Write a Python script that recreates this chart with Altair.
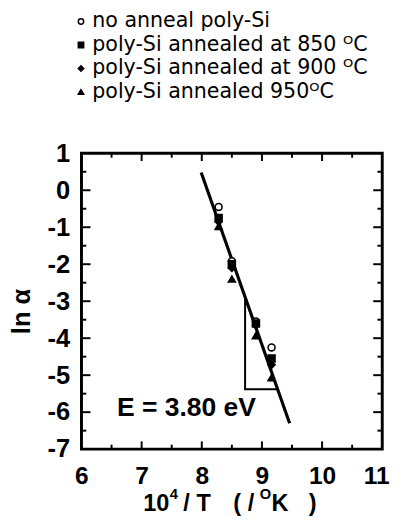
import altair as alt
import pandas as pd

# ---- data ----
series_names = [
    "no anneal poly-Si",
    "poly-Si annealed at 850 ᴼC",
    "poly-Si annealed at 900 ᴼC",
    "poly-Si annealed 950ᴼC",
]
inv_T = [8.28, 8.5, 8.9, 9.16]
ln_alpha_none = [-0.45, -1.92, -3.55, -4.25]
ln_alpha_850 = [-0.75, -2.0, -3.6, -4.55]
ln_alpha_900 = [-0.85, -2.1, -3.65, -4.72]
ln_alpha_950 = [-0.98, -2.4, -3.93, -5.07]

fit_x = [7.99, 9.46]
fit_y = [0.48, -6.3]

tri_x = [8.72, 8.72, 9.26]
tri_y = [-2.89, -5.38, -5.38]

note_text = ["E = 3.80 eV"]
note_x = [6.59]
note_y = [-5.88]

x_tick_labels = [6, 7, 8, 9, 10, 11]
y_tick_labels = [-7, -6, -5, -4, -3, -2, -1, 0, 1]
x_major_ticks = [7, 8, 9, 10]
x_minor_ticks = [6.5, 7.5, 8.5, 9.5, 10.5]
y_major_ticks = [-6, -5, -4, -3, -2, -1, 0]
y_minor_ticks = [-6.5, -5.5, -4.5, -3.5, -2.5, -1.5, -0.5, 0.5]

# x-axis title pieces (text, superscript?)
x_title_pieces = ["10", "4", "/ T", "( /", "O", "K", ")"]
x_title_super = [False, True, False, False, True, False, False]

X0, X1 = 6, 11
Y0, Y1 = -7, 1

# ---- tables ----
rows = []
for name, vals in zip(series_names, [ln_alpha_none, ln_alpha_850, ln_alpha_900, ln_alpha_950]):
    for xv, yv in zip(inv_T, vals):
        rows.append({"x": xv, "y": yv, "series": name})
pts = pd.DataFrame(rows)

fit = pd.DataFrame({"x": fit_x, "y": fit_y})
tri = pd.DataFrame({"x": tri_x, "y": tri_y, "o": list(range(len(tri_x)))})
note = pd.DataFrame({"x": note_x, "y": note_y, "t": note_text})

# inward ticks on the four sides (lengths in data units)
yl_major, yl_minor = 0.21, 0.12
xl_major, xl_minor = 0.15, 0.08
vt = []
for t in x_major_ticks:
    vt.append({"x": t, "y": Y0, "y2": Y0 + yl_major})
    vt.append({"x": t, "y": Y1, "y2": Y1 - yl_major})
for t in x_minor_ticks:
    vt.append({"x": t, "y": Y0, "y2": Y0 + yl_minor})
    vt.append({"x": t, "y": Y1, "y2": Y1 - yl_minor})
vt = pd.DataFrame(vt)
ht = []
for t in y_major_ticks:
    ht.append({"y": t, "x": X0, "x2": X0 + xl_major})
    ht.append({"y": t, "x": X1, "x2": X1 - xl_major})
for t in y_minor_ticks:
    ht.append({"y": t, "x": X0, "x2": X0 + xl_minor})
    ht.append({"y": t, "x": X1, "x2": X1 - xl_minor})
ht = pd.DataFrame(ht)

# ---- scales / axes ----
xscale = alt.Scale(domain=[X0, X1], nice=False, zero=False)
yscale = alt.Scale(domain=[Y0, Y1], nice=False, zero=False)

xaxis = alt.Axis(
    values=x_tick_labels, ticks=False, domain=False, grid=False,
    labelFont="Liberation Sans", labelFontWeight="bold", labelFontSize=25,
    labelColor="black", labelPadding=15, labelFlush=True, labelFlushOffset=7,
    title=None,
)
yaxis = alt.Axis(
    values=y_tick_labels, ticks=False, domain=False, grid=False,
    labelFont="Liberation Sans", labelFontWeight="bold", labelFontSize=26,
    labelColor="black", labelPadding=12, labelFlush=False,
    labelExpr="'' + datum.value",
    title="ln α", titleFont="Liberation Sans", titleFontWeight="bold",
    titleFontSize=26, titleColor="black", titleAngle=270,
    titleAlign="center", titleBaseline="middle", titleX=-61, titleY=161,
)


def X(f):
    return alt.X(f, type="quantitative", scale=xscale, axis=xaxis)


def Y(f):
    return alt.Y(f, type="quantitative", scale=yscale, axis=yaxis)


legend = alt.Legend(
    orient="none", legendX=-11, legendY=-145, title=None,
    labelFont="DejaVu Sans", labelFontSize=21, labelColor="black",
    labelLimit=500, labelOffset=1, padding=0,
    symbolSize=30, symbolStrokeWidth=1.5,
)

fit_line = alt.Chart(fit).mark_line(color="black", strokeWidth=3.2).encode(x=X("x"), y=Y("y"))

tri_line = alt.Chart(tri).mark_line(color="black", strokeWidth=2).encode(
    x=X("x"), y=Y("y"), order="o:Q"
)

points = alt.Chart(pts).mark_point(filled=True, strokeWidth=1.6, opacity=1, size=50).encode(
    x=X("x"), y=Y("y"),
    shape=alt.Shape("series:N", scale=alt.Scale(domain=series_names,
                    range=["circle", "square", "diamond", "triangle-up"]), legend=legend),
    fill=alt.Fill("series:N", scale=alt.Scale(domain=series_names,
                  range=["white", "black", "black", "black"]), legend=legend),
    stroke=alt.Stroke("series:N", scale=alt.Scale(domain=series_names,
                      range=["black", "black", "black", "black"]), legend=legend),
)

text = alt.Chart(note).mark_text(
    font="Liberation Sans", fontWeight="bold", fontSize=27, align="left",
    baseline="middle", color="black"
).encode(x=X("x"), y=Y("y"), text="t:N")

vticks = alt.Chart(vt).mark_rule(color="black", strokeWidth=2).encode(
    x=X("x"), y=Y("y"), y2="y2"
)
hticks = alt.Chart(ht).mark_rule(color="black", strokeWidth=2).encode(
    y=Y("y"), x=X("x"), x2="x2"
)

# x-axis title built from pieces so the superscripts are large, as in the figure
title_left = [63, 90, 104, 155, 182, 194, 232]   # pixel offsets from plot's left edge
title_layers = []
for piece, sup, left in zip(x_title_pieces, x_title_super, title_left):
    title_layers.append(
        alt.Chart(pd.DataFrame({"t": [piece]})).mark_text(
            font="Liberation Sans", fontWeight="bold",
            fontSize=15 if sup else 24, align="left", baseline="alphabetic",
            color="black",
        ).encode(
            x=alt.value(left), y=alt.value(353 if sup else 365), text="t:N"
        )
    )

chart = alt.layer(vticks, hticks, fit_line, tri_line, text, points, *title_layers).properties(
    width=307, height=302,
    autosize=alt.AutoSizeParams(type="none"),
    padding={"left": 75, "top": 143, "right": 12, "bottom": 65},
    background="white",
).configure_view(stroke="black", strokeWidth=3)

chart.save("out.html", embed_options={"renderer": "svg", "actions": False})
